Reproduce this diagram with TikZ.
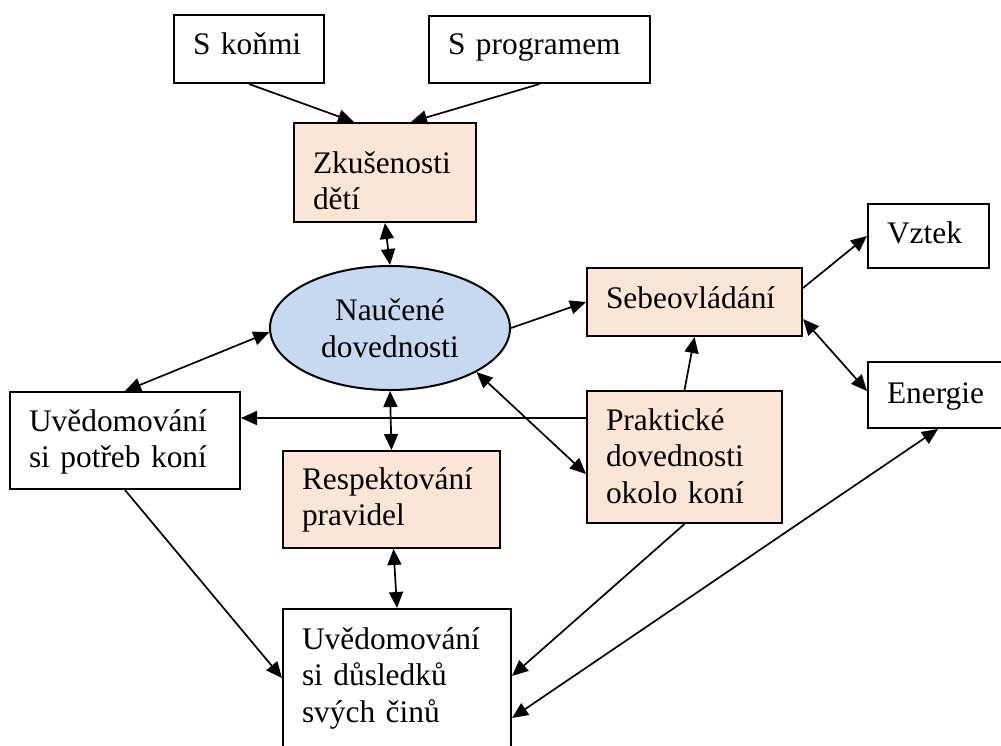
\documentclass[tikz,border=0pt]{standalone}
\usepackage{fontspec}
\setmainfont{Liberation Serif}
\usetikzlibrary{arrows.meta,shapes.geometric}
\definecolor{peach}{HTML}{FBE5D6}
\definecolor{skyfill}{HTML}{C6D9F0}

\begin{document}
\begin{tikzpicture}[x=1pt,y=-1pt,
  txt/.style={font=\fontsize{31.4pt}{36.5pt}\selectfont},
  % box: text width, height above first baseline, depth below it
  bx/.style n args={3}{draw, line width=2pt, rectangle, anchor=north west,
    inner xsep=19pt, inner ysep=0pt, align=left,
    text width=#1pt, text height=#2pt, text depth=#3pt, txt},
  warm/.style={fill=peach},
  arr/.style={line width=1.7pt, -{Triangle[length=16pt,width=14pt]}},
  darr/.style={line width=1.7pt,
    {Triangle[length=16pt,width=14pt]}-{Triangle[length=16pt,width=14pt]}}]

\useasboundingbox (0,0) rectangle (1001,745);
\fill[white] (0,0) rectangle (1001,745);

% boxes
\node[bx={112}{39}{29}] (kon) at (173,14) {S koňmi};
\node[bx={183}{38}{29}] (prg) at (428,15) {S programem};
\node[bx={144}{50}{49}, warm] (zku) at (293,122) {Zkušenosti\\dětí};
\node[ellipse, draw, line width=2pt, fill=skyfill, minimum width=240pt,
      minimum height=124pt, inner sep=0pt, align=center, txt]
      (ell) at (390,328) {Naučené\\dovednosti};
\node[bx={177}{40}{28}, warm] (seb) at (586,267) {Sebeovládání};
\node[bx={83}{39}{25}] (vzt) at (867,203) {Vztek};
\node[bx={112}{41}{25}] (ene) at (867,361) {Energie};
\node[bx={192}{39}{58}] (pot) at (9,391) {Uvědomování\\si potřeb koní};
\node[bx={157}{39}{93}, warm] (pra) at (586,390) {Praktické\\dovednosti\\okolo koní};
\node[bx={179}{38}{59}, warm] (res) at (282,450) {Respektování\\pravidel};
\node[bx={190}{40}{112}] (dus) at (282,608) {Uvědomování\\si důsledků\\svých činů};

% connectors
\draw[arr] (kon.south) -- ([xshift=-31pt]zku.north);
\draw[arr] (prg.south) -- ([xshift=26pt]zku.north);
\draw[darr] (zku.south) -- (ell.north);
\draw[arr] (ell.east) -- (seb.west);
\draw[arr] ([yshift=14pt]seb.east) -- (vzt.west);
\draw[darr] ([yshift=-17pt]seb.east) -- ([yshift=4pt]ene.west);
\draw[arr] (pra.north) -- (seb.south);
\draw[arr] ([yshift=39pt]pra.west) -- ([yshift=39pt]pra.west -| pot.east);
\draw[darr] (ell.-27) -- ([yshift=-17pt]pra.west);
\draw[darr] (ell.182) -- (pot.north);
\draw[darr] (ell.south) -- (res.north);
\draw[darr] ([xshift=2pt]res.south) -- (dus.north);
\draw[arr] (pot.south) -- ([yshift=7pt]dus.west);
\draw[arr] (pra.south) -- ([yshift=9pt]dus.east);
\draw[darr] ([xshift=-5pt]ene.south) -- ([yshift=-33pt]dus.east);

\end{tikzpicture}
\end{document}
